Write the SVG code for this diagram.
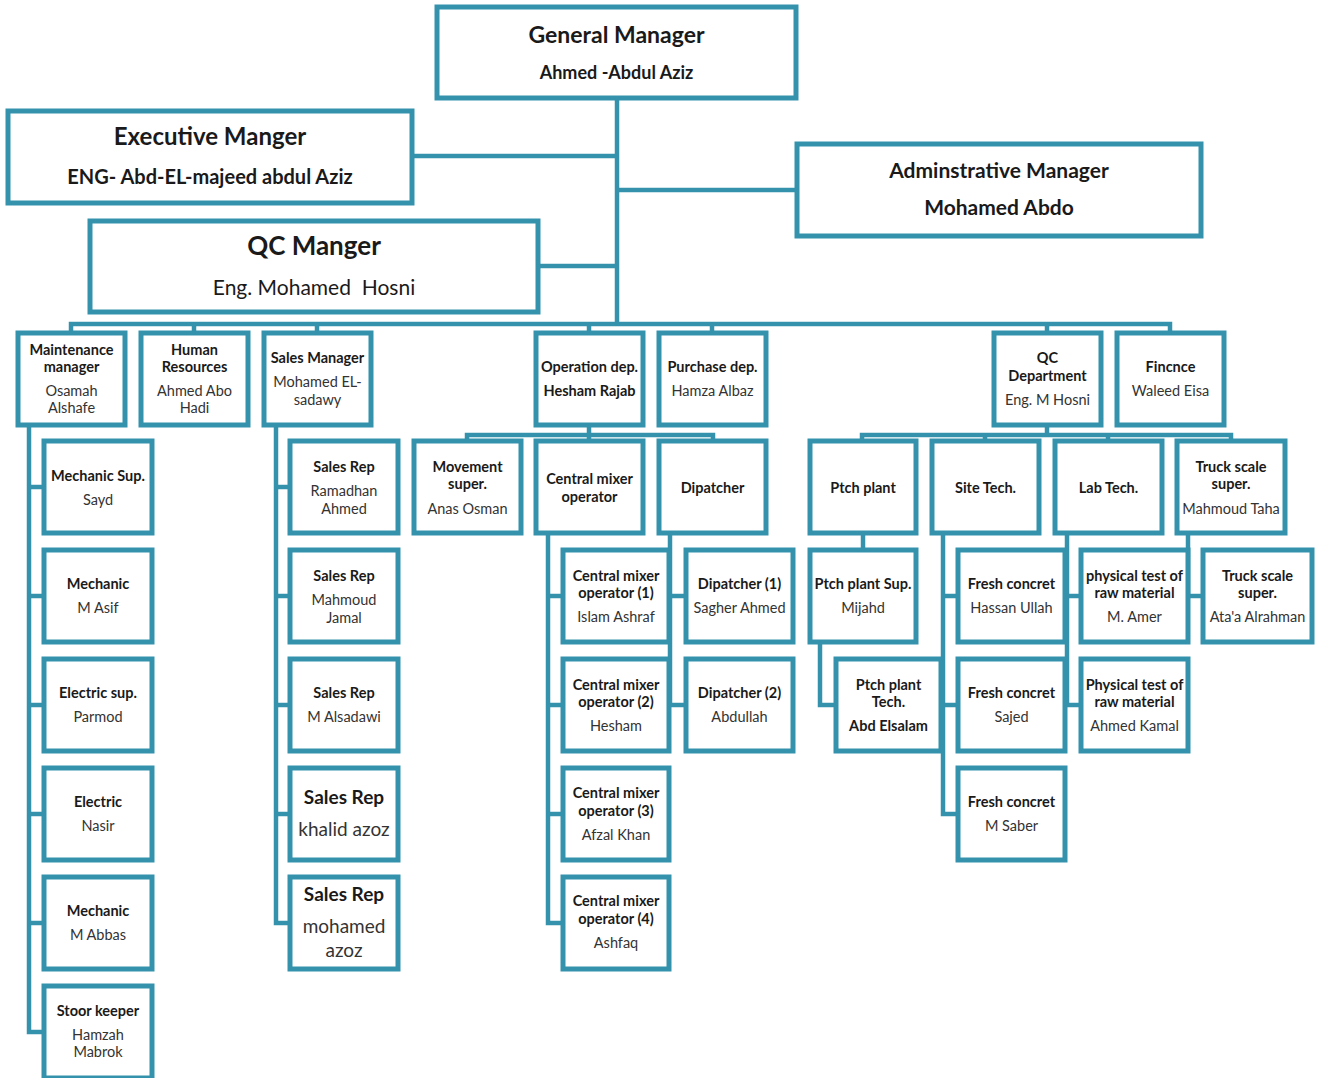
<svg xmlns="http://www.w3.org/2000/svg" width="1319" height="1078" viewBox="0 0 1319 1078">
<style>
.b{fill:#fff;stroke:#3492ad;stroke-width:5}
.c{fill:none;stroke:#3492ad;stroke-width:4.5}
text{font-family:Lato,"Liberation Sans",sans-serif;font-size:14.5px;fill:#1a1a1a;text-anchor:middle}
.t{font-weight:bold}
.n{fill:#333}
.big{font-size:19px}
</style>
<rect width="1319" height="1078" fill="#fff"/>
<g id="connectors" class="c">
<path d="M617 98V324M412 156H617M617 190H797M538 266H617"/>
<path d="M71 333V324H1170V333M194 324V333M317 324V333M589 324V333M712 324V333M1047 324V333"/>
<path d="M589 426V435M467 441V435H713V441M589 435V441"/>
<path d="M1047 426V435M862 441V435H1231V441M985 435V441M1108 435V441"/>
<path d="M29 426V1032H44M29 487H44M29 596H44M29 705H44M29 814H44M29 923H44"/>
<path d="M276 426V923H290M276 487H290M276 596H290M276 705H290M276 814H290"/>
<path d="M548 533V923H563M548 596H563M548 705H563M548 814H563"/>
<path d="M670 533V705H686M670 596H686"/>
<path d="M863 533V550M820 642V705H836"/>
<path d="M943 533V814H958M943 596H958M943 705H958"/>
<path d="M1067 533V705H1081M1067 596H1081"/>
<path d="M1188 533V596H1203"/>
</g>
<g id="general-manager"><rect class="b" x="437" y="7" width="359" height="91"/><text class="t" x="616.5" y="43" style="font-size:23px">General Manager</text><text class="t" x="616.5" y="79" style="font-size:18px">Ahmed -Abdul Aziz</text></g>
<g id="executive-manager"><rect class="b" x="8" y="111" width="404" height="92"/><text class="t" x="210" y="145" style="font-size:24px">Executive Manger</text><text class="t" x="210" y="184" style="font-size:20px">ENG- Abd-EL-majeed abdul Aziz</text></g>
<g id="admin-manager"><rect class="b" x="797" y="144" width="404" height="92"/><text class="t" x="999" y="178" style="font-size:21px">Adminstrative Manager</text><text class="t" x="999" y="215" style="font-size:21px">Mohamed Abdo</text></g>
<g id="qc-manager"><rect class="b" x="90" y="221" width="448" height="91"/><text class="t" x="314" y="255" style="font-size:26px">QC Manger</text><text x="314" y="295" style="font-size:21px;white-space:pre">Eng. Mohamed  Hosni</text></g>

<g id="maintenance"><rect class="b" x="18" y="333" width="107" height="92"/><text class="t" x="71.5" y="355">Maintenance</text><text class="t" x="71.5" y="372">manager</text><text class="n" x="71.5" y="396">Osamah</text><text class="n" x="71.5" y="413">Alshafe</text></g>
<g id="hr"><rect class="b" x="141" y="333" width="107" height="92"/><text class="t" x="194.5" y="355">Human</text><text class="t" x="194.5" y="372">Resources</text><text class="n" x="194.5" y="396">Ahmed Abo</text><text class="n" x="194.5" y="413">Hadi</text></g>
<g id="sales-manager"><rect class="b" x="264" y="333" width="107" height="92"/><text class="t" x="317.5" y="363">Sales Manager</text><text class="n" x="317.5" y="387">Mohamed EL-</text><text class="n" x="317.5" y="405">sadawy</text></g>
<g id="operation"><rect class="b" x="536" y="333" width="107" height="92"/><text class="t" x="589.5" y="372">Operation dep.</text><text class="t" x="589.5" y="396">Hesham Rajab</text></g>
<g id="purchase"><rect class="b" x="659" y="333" width="107" height="92"/><text class="t" x="712.5" y="372">Purchase dep.</text><text class="n" x="712.5" y="396">Hamza Albaz</text></g>
<g id="qc-department"><rect class="b" x="994" y="333" width="107" height="92"/><text class="t" x="1047.5" y="363">QC</text><text class="t" x="1047.5" y="381">Department</text><text class="n" x="1047.5" y="405">Eng. M Hosni</text></g>
<g id="finance"><rect class="b" x="1117" y="333" width="107" height="92"/><text class="t" x="1170.5" y="372">Fincnce</text><text class="n" x="1170.5" y="396">Waleed Eisa</text></g>

<g id="movement"><rect class="b" x="414" y="441" width="107" height="92"/><text class="t" x="467.5" y="472">Movement</text><text class="t" x="467.5" y="489">super.</text><text class="n" x="467.5" y="514">Anas Osman</text></g>
<g id="cmo"><rect class="b" x="536" y="441" width="107" height="92"/><text class="t" x="589.5" y="484">Central mixer</text><text class="t" x="589.5" y="502">operator</text></g>
<g id="dispatcher"><rect class="b" x="659" y="441" width="107" height="92"/><text class="t" x="712.5" y="493">Dipatcher</text></g>
<g id="ptch-plant"><rect class="b" x="810" y="441" width="106" height="92"/><text class="t" x="863" y="493">Ptch plant</text></g>
<g id="site-tech"><rect class="b" x="932" y="441" width="107" height="92"/><text class="t" x="985.5" y="493">Site Tech.</text></g>
<g id="lab-tech"><rect class="b" x="1055" y="441" width="107" height="92"/><text class="t" x="1108.5" y="493">Lab Tech.</text></g>
<g id="truck-scale"><rect class="b" x="1177" y="441" width="108" height="92"/><text class="t" x="1231" y="472">Truck scale</text><text class="t" x="1231" y="489">super.</text><text class="n" x="1231" y="514">Mahmoud Taha</text></g>

<g id="mechanic-sup"><rect class="b" x="44" y="441" width="108" height="92"/><text class="t" x="98" y="481">Mechanic Sup.</text><text class="n" x="98" y="505">Sayd</text></g>
<g id="mechanic-1"><rect class="b" x="44" y="550" width="108" height="92"/><text class="t" x="98" y="589">Mechanic</text><text class="n" x="98" y="613">M Asif</text></g>
<g id="electric-sup"><rect class="b" x="44" y="659" width="108" height="92"/><text class="t" x="98" y="698">Electric sup.</text><text class="n" x="98" y="722">Parmod</text></g>
<g id="electric"><rect class="b" x="44" y="768" width="108" height="92"/><text class="t" x="98" y="807">Electric</text><text class="n" x="98" y="831">Nasir</text></g>
<g id="mechanic-2"><rect class="b" x="44" y="877" width="108" height="92"/><text class="t" x="98" y="916">Mechanic</text><text class="n" x="98" y="940">M Abbas</text></g>
<g id="store-keeper"><rect class="b" x="44" y="986" width="108" height="92"/><text class="t" x="98" y="1016">Stoor keeper</text><text class="n" x="98" y="1040">Hamzah</text><text class="n" x="98" y="1057">Mabrok</text></g>

<g id="sales-rep-1"><rect class="b" x="290" y="441" width="108" height="92"/><text class="t" x="344" y="472">Sales Rep</text><text class="n" x="344" y="496">Ramadhan</text><text class="n" x="344" y="514">Ahmed</text></g>
<g id="sales-rep-2"><rect class="b" x="290" y="550" width="108" height="92"/><text class="t" x="344" y="581">Sales Rep</text><text class="n" x="344" y="605">Mahmoud</text><text class="n" x="344" y="623">Jamal</text></g>
<g id="sales-rep-3"><rect class="b" x="290" y="659" width="108" height="92"/><text class="t" x="344" y="698">Sales Rep</text><text class="n" x="344" y="722">M Alsadawi</text></g>
<g id="sales-rep-4"><rect class="b" x="290" y="768" width="108" height="92"/><text class="t big" x="344" y="804">Sales Rep</text><text class="n big" x="344" y="836">khalid azoz</text></g>
<g id="sales-rep-5"><rect class="b" x="290" y="877" width="108" height="92"/><text class="t big" x="344" y="901">Sales Rep</text><text class="n big" x="344" y="933">mohamed</text><text class="n big" x="344" y="957">azoz</text></g>

<g id="cmo-1"><rect class="b" x="563" y="550" width="106" height="92"/><text class="t" x="616" y="581">Central mixer</text><text class="t" x="616" y="598">operator (1)</text><text class="n" x="616" y="622">Islam Ashraf</text></g>
<g id="cmo-2"><rect class="b" x="563" y="659" width="106" height="92"/><text class="t" x="616" y="690">Central mixer</text><text class="t" x="616" y="707">operator (2)</text><text class="n" x="616" y="731">Hesham</text></g>
<g id="cmo-3"><rect class="b" x="563" y="768" width="106" height="92"/><text class="t" x="616" y="798">Central mixer</text><text class="t" x="616" y="816">operator (3)</text><text class="n" x="616" y="840">Afzal Khan</text></g>
<g id="cmo-4"><rect class="b" x="563" y="877" width="106" height="92"/><text class="t" x="616" y="906">Central mixer</text><text class="t" x="616" y="924">operator (4)</text><text class="n" x="616" y="948">Ashfaq</text></g>

<g id="dispatcher-1"><rect class="b" x="686" y="550" width="107" height="92"/><text class="t" x="739.5" y="589">Dipatcher (1)</text><text class="n" x="739.5" y="613">Sagher Ahmed</text></g>
<g id="dispatcher-2"><rect class="b" x="686" y="659" width="107" height="92"/><text class="t" x="739.5" y="698">Dipatcher (2)</text><text class="n" x="739.5" y="722">Abdullah</text></g>

<g id="ptch-plant-sup"><rect class="b" x="810" y="550" width="106" height="92"/><text class="t" x="863" y="589">Ptch plant Sup.</text><text class="n" x="863" y="613">Mijahd</text></g>
<g id="ptch-plant-tech"><rect class="b" x="836" y="659" width="105" height="92"/><text class="t" x="888.5" y="690">Ptch plant</text><text class="t" x="888.5" y="707">Tech.</text><text class="t" x="888.5" y="731">Abd Elsalam</text></g>

<g id="fresh-1"><rect class="b" x="958" y="550" width="107" height="92"/><text class="t" x="1011.5" y="589">Fresh concret</text><text class="n" x="1011.5" y="613">Hassan Ullah</text></g>
<g id="fresh-2"><rect class="b" x="958" y="659" width="107" height="92"/><text class="t" x="1011.5" y="698">Fresh concret</text><text class="n" x="1011.5" y="722">Sajed</text></g>
<g id="fresh-3"><rect class="b" x="958" y="768" width="107" height="92"/><text class="t" x="1011.5" y="807">Fresh concret</text><text class="n" x="1011.5" y="831">M Saber</text></g>

<g id="physical-1"><rect class="b" x="1081" y="550" width="107" height="92"/><text class="t" x="1134.5" y="581">physical test of</text><text class="t" x="1134.5" y="598">raw material</text><text class="n" x="1134.5" y="622">M. Amer</text></g>
<g id="physical-2"><rect class="b" x="1081" y="659" width="107" height="92"/><text class="t" x="1134.5" y="690">Physical test of</text><text class="t" x="1134.5" y="707">raw material</text><text class="n" x="1134.5" y="731">Ahmed Kamal</text></g>

<g id="truck-scale-2"><rect class="b" x="1203" y="550" width="109" height="92"/><text class="t" x="1257.5" y="581">Truck scale</text><text class="t" x="1257.5" y="598">super.</text><text class="n" x="1257.5" y="622">Ata'a Alrahman</text></g>
</svg>
